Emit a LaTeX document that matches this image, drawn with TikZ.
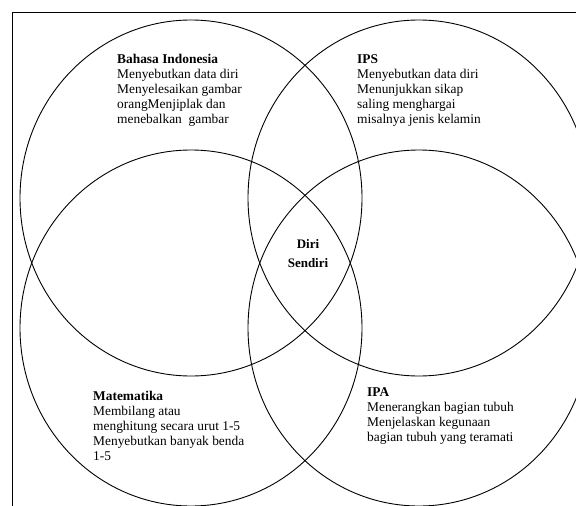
\documentclass[tikz,border=0pt]{standalone}
\usepackage{fontspec}
\setmainfont{Liberation Serif}
\usetikzlibrary{positioning}

\begin{document}
\begin{tikzpicture}
			[x=1pt, y=-1pt,
			circ/.style={line width=.9pt},
			subj/.style={align=left, anchor=north west, inner sep=0pt, font=\fontsize{13.4}{15}\selectfont},
			core/.style={align=center, anchor=north, inner sep=0pt, font=\fontsize{13}{19}\selectfont\bfseries}]
			\useasboundingbox (0,0) rectangle (576,506);
			\clip (0,0) rectangle (576,506);

			% frame %
			\draw[line width=.8pt] (12,520) -- (12,12) -- (590,12);

			% circles %
			\draw[circ] (191,198) ellipse [x radius=171, y radius=178];
			\draw[circ] (419,198) ellipse [x radius=171, y radius=178];
			\draw[circ] (191,328) ellipse [x radius=171, y radius=178];
			\draw[circ] (419,328) ellipse [x radius=171, y radius=178];

			% nodes %
			\node[subj] (bindo) at (117,54) {\textbf{Bahasa Indonesia}\\Menyebutkan data diri\\Menyelesaikan gambar\\orangMenjiplak dan\\menebalkan\ \ gambar};
			\node[subj] (ips) at (357,54) {\textbf{IPS}\\Menyebutkan data diri\\Menunjukkan sikap\\saling menghargai\\misalnya jenis kelamin};
			\node[core] (diri) at (308,239) {Diri\\Sendiri};
			\node[subj] (mtk) at (93,391) {\textbf{Matematika}\\Membilang atau\\menghitung secara urut 1-5\\Menyebutkan banyak benda\\1-5};
			\node[subj] (ipa) at (367,387) {\textbf{IPA}\\Menerangkan bagian tubuh\\Menjelaskan kegunaan\\bagian tubuh yang teramati};
			\end{tikzpicture}
\end{document}
